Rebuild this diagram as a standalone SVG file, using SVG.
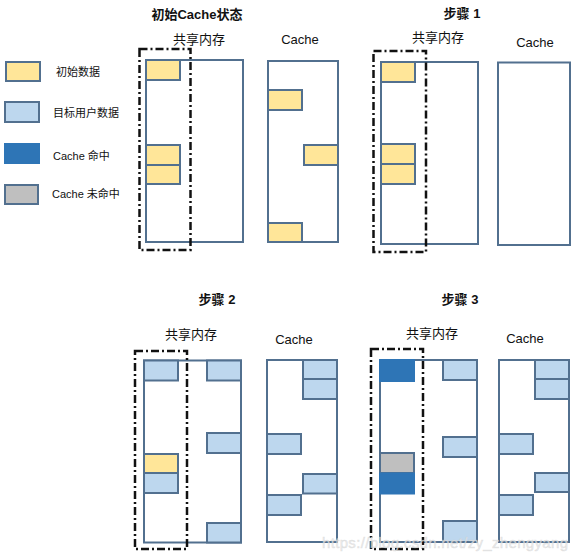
<svg xmlns="http://www.w3.org/2000/svg" width="579" height="560" viewBox="0 0 579 560">
<style>
text{font-family:"Liberation Sans","Noto Sans CJK SC",sans-serif;fill:#111;text-anchor:middle;dominant-baseline:central}
.t{font-size:13px;font-weight:bold}
.l{font-size:13px}
.g{font-size:11px;text-anchor:start}
.box{fill:#fff;stroke:#52708f;stroke-width:2}
.y{fill:#ffe699;stroke:#52708f;stroke-width:2}
.b{fill:#bdd7ee;stroke:#52708f;stroke-width:2}
.d{fill:#2e75b6;stroke:#2e75b6;stroke-width:2}
.s{fill:#bfbfbf;stroke:#52708f;stroke-width:2}
.dash{fill:none;stroke:#111;stroke-width:2.5;stroke-dasharray:8 3 2 3}
.wm{font-size:15px;fill:#e8e8e8;fill-opacity:0.75;stroke:#c8c8c8;stroke-opacity:0.5;stroke-width:0.5;text-anchor:start}
</style>
<rect width="579" height="560" fill="#fff"/>
<g id="legend">
<rect class="y" x="6" y="62" width="34" height="19"/>
<text class="g" x="56" y="72">初始数据</text>
<rect class="b" x="5" y="102" width="34" height="20"/>
<text class="g" x="53" y="113">目标用户数据</text>
<rect class="d" x="5" y="144" width="34" height="19"/>
<text class="g" x="53" y="156">Cache 命中</text>
<rect class="s" x="5" y="185" width="33" height="19"/>
<text class="g" x="52" y="194">Cache 未命中</text>
</g>
<g id="panel0">
<text class="t" x="197" y="14">初始Cache状态</text>
<text class="l" x="199" y="39">共享内存</text>
<rect class="box" x="146" y="60" width="97" height="182"/>
<rect class="y" x="146" y="60" width="34" height="20"/>
<rect class="y" x="146" y="145" width="34" height="20"/>
<rect class="y" x="146" y="165" width="34" height="19"/>
<rect class="dash" x="139.5" y="49" width="51" height="201"/>
<text class="l" x="300" y="39">Cache</text>
<rect class="box" x="268" y="61" width="70" height="181"/>
<rect class="y" x="268" y="90" width="34" height="20"/>
<rect class="y" x="304" y="145" width="34" height="20"/>
<rect class="y" x="268" y="223" width="34" height="19"/>
</g>
<g id="panel1">
<text class="t" x="462" y="13">步骤 1</text>
<text class="l" x="438" y="37">共享内存</text>
<rect class="box" x="381" y="62" width="97" height="182"/>
<rect class="y" x="381" y="62" width="34" height="20"/>
<rect class="y" x="381" y="144" width="34" height="20"/>
<rect class="y" x="381" y="164" width="34" height="20"/>
<rect class="dash" x="373.5" y="51" width="52.5" height="201"/>
<text class="l" x="535" y="42">Cache</text>
<rect class="box" x="498" y="62.5" width="72" height="182.5"/>
</g>
<g id="panel2">
<text class="t" x="217" y="299">步骤 2</text>
<text class="l" x="191" y="334">共享内存</text>
<rect class="box" x="144" y="360.5" width="97" height="182"/>
<rect class="b" x="144" y="360.5" width="34" height="20"/>
<rect class="y" x="144" y="454" width="34" height="19"/>
<rect class="b" x="144" y="473" width="34" height="20"/>
<rect class="b" x="207" y="360.5" width="34" height="20"/>
<rect class="b" x="207" y="433" width="34" height="20"/>
<rect class="b" x="207" y="523" width="34" height="19.5"/>
<rect class="dash" x="135" y="351" width="52" height="198"/>
<text class="l" x="294" y="339">Cache</text>
<rect class="box" x="267" y="360" width="70" height="182"/>
<rect class="b" x="303" y="360" width="34" height="19"/>
<rect class="b" x="303" y="379" width="34" height="20"/>
<rect class="b" x="267" y="434" width="34" height="20"/>
<rect class="b" x="303" y="474" width="34" height="19.5"/>
<rect class="b" x="267" y="495" width="34" height="20"/>
</g>
<g id="panel3">
<text class="t" x="460" y="299">步骤 3</text>
<text class="l" x="432" y="333">共享内存</text>
<rect class="box" x="380" y="360" width="97" height="182"/>
<rect class="d" x="380" y="360" width="34" height="21"/>
<rect class="s" x="380" y="453" width="34" height="20"/>
<rect class="d" x="380" y="473.5" width="34" height="20"/>
<rect class="b" x="443" y="360" width="34" height="20"/>
<rect class="b" x="443" y="437" width="34" height="20"/>
<rect class="b" x="443" y="521" width="34" height="21"/>
<rect class="dash" x="371" y="349" width="52" height="200"/>
<text class="l" x="525" y="338">Cache</text>
<rect class="box" x="499" y="360" width="70" height="182"/>
<rect class="b" x="535" y="360" width="34" height="19"/>
<rect class="b" x="535" y="379" width="34" height="20"/>
<rect class="b" x="499" y="434" width="34" height="20"/>
<rect class="b" x="535" y="473" width="34" height="19"/>
<rect class="b" x="499" y="495" width="34" height="20"/>
</g>
<text class="wm" x="322" y="542" textLength="246">https://blog.csdn.net/zy_zhengyang</text>
</svg>
